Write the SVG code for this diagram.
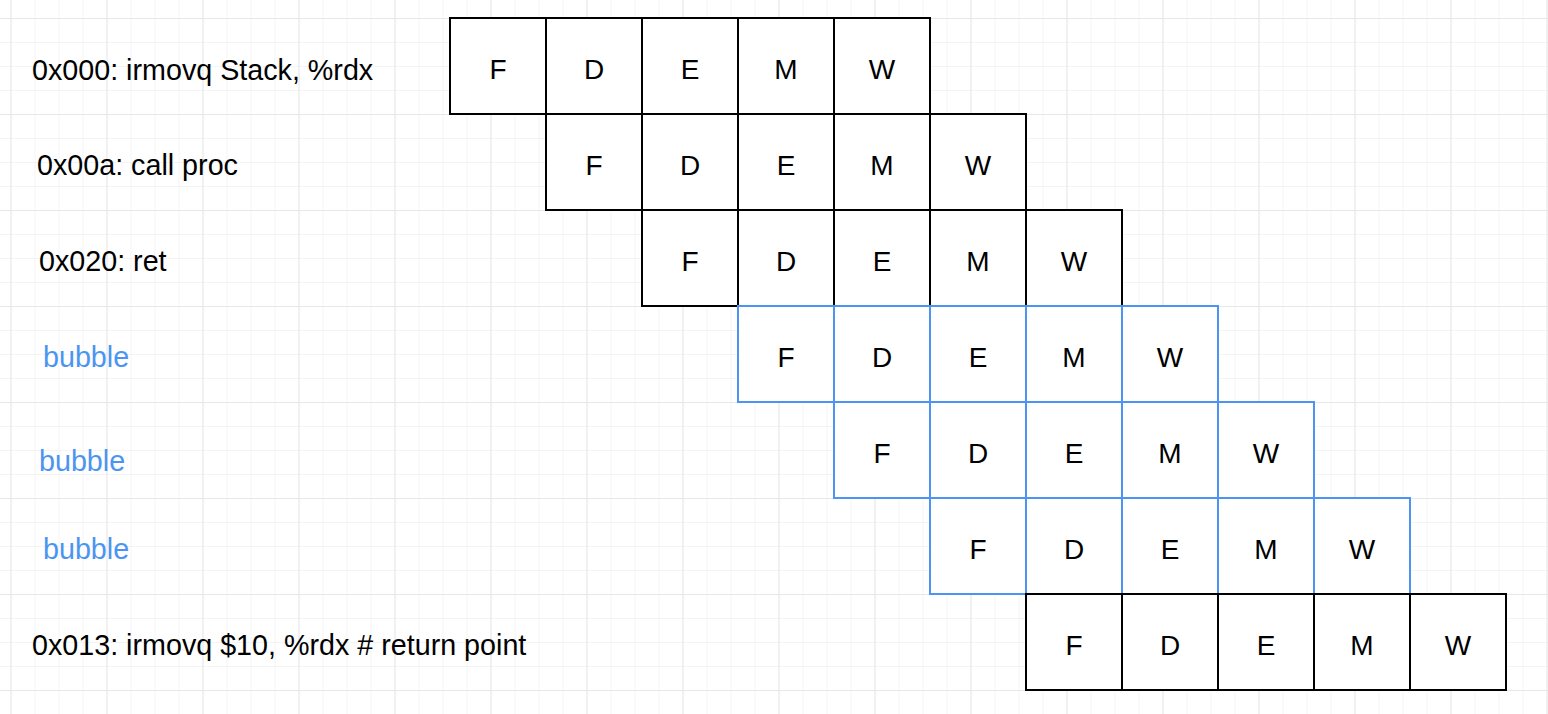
<svg xmlns="http://www.w3.org/2000/svg" width="1548" height="714" viewBox="0 0 1548 714">
<defs>
<pattern id="minor" x="10.5" y="18" width="24" height="24" patternUnits="userSpaceOnUse">
<path d="M0 0H24M0 0V24" fill="none" stroke="#f1f1f1" stroke-width="1.5"/>
</pattern>
<pattern id="major" x="10.5" y="18" width="96" height="96" patternUnits="userSpaceOnUse">
<path d="M0 0H96M0 0V96" fill="none" stroke="#e4e4e4" stroke-width="1.5"/>
</pattern>
</defs>
<style>
.cell{fill:#ffffff;stroke:#000000;stroke-width:2}
.bcell{fill:#ffffff;stroke:#4c94f2;stroke-width:2}
.st{font-family:"Liberation Sans",Arial,sans-serif;font-size:28px;fill:#000000;text-anchor:middle}
.lbl{font-family:"Liberation Sans",Arial,sans-serif;font-size:28.7px;fill:#000000}
.blbl{font-family:"Liberation Sans",Arial,sans-serif;font-size:28.7px;fill:#4c94f2}
</style>
<rect width="1548" height="714" fill="#ffffff"/>
<rect width="1548" height="714" fill="url(#minor)"/>
<rect width="1548" height="714" fill="url(#major)"/>
<g id="connectors"></g>
<g id="labels">
<text class="lbl" x="32" y="80">0x000: irmovq Stack, %rdx</text>
<text class="lbl" x="37" y="175">0x00a: call proc</text>
<text class="lbl" x="39" y="271">0x020: ret</text>
<text class="blbl" x="43" y="367">bubble</text>
<text class="blbl" x="39" y="471">bubble</text>
<text class="blbl" x="43" y="559">bubble</text>
<text class="lbl" x="32" y="655">0x013: irmovq $10, %rdx # return point</text>
</g>
<g id="row1">
<rect class="cell" x="450" y="18" width="96" height="96"/><rect class="cell" x="546" y="18" width="96" height="96"/><rect class="cell" x="642" y="18" width="96" height="96"/><rect class="cell" x="738" y="18" width="96" height="96"/><rect class="cell" x="834" y="18" width="96" height="96"/>
<text class="st" x="498" y="79">F</text><text class="st" x="594" y="79">D</text><text class="st" x="690" y="79">E</text><text class="st" x="786" y="79">M</text><text class="st" x="882" y="79">W</text>
</g>
<g id="row2">
<rect class="cell" x="546" y="114" width="96" height="96"/><rect class="cell" x="642" y="114" width="96" height="96"/><rect class="cell" x="738" y="114" width="96" height="96"/><rect class="cell" x="834" y="114" width="96" height="96"/><rect class="cell" x="930" y="114" width="96" height="96"/>
<text class="st" x="594" y="175">F</text><text class="st" x="690" y="175">D</text><text class="st" x="786" y="175">E</text><text class="st" x="882" y="175">M</text><text class="st" x="978" y="175">W</text>
</g>
<g id="row3">
<rect class="cell" x="642" y="210" width="96" height="96"/><rect class="cell" x="738" y="210" width="96" height="96"/><rect class="cell" x="834" y="210" width="96" height="96"/><rect class="cell" x="930" y="210" width="96" height="96"/><rect class="cell" x="1026" y="210" width="96" height="96"/>
<text class="st" x="690" y="271">F</text><text class="st" x="786" y="271">D</text><text class="st" x="882" y="271">E</text><text class="st" x="978" y="271">M</text><text class="st" x="1074" y="271">W</text>
</g>
<g id="row4">
<rect class="bcell" x="738" y="306" width="96" height="96"/><rect class="bcell" x="834" y="306" width="96" height="96"/><rect class="bcell" x="930" y="306" width="96" height="96"/><rect class="bcell" x="1026" y="306" width="96" height="96"/><rect class="bcell" x="1122" y="306" width="96" height="96"/>
<text class="st" x="786" y="367">F</text><text class="st" x="882" y="367">D</text><text class="st" x="978" y="367">E</text><text class="st" x="1074" y="367">M</text><text class="st" x="1170" y="367">W</text>
</g>
<g id="row5">
<rect class="bcell" x="834" y="402" width="96" height="96"/><rect class="bcell" x="930" y="402" width="96" height="96"/><rect class="bcell" x="1026" y="402" width="96" height="96"/><rect class="bcell" x="1122" y="402" width="96" height="96"/><rect class="bcell" x="1218" y="402" width="96" height="96"/>
<text class="st" x="882" y="463">F</text><text class="st" x="978" y="463">D</text><text class="st" x="1074" y="463">E</text><text class="st" x="1170" y="463">M</text><text class="st" x="1266" y="463">W</text>
</g>
<g id="row6">
<rect class="bcell" x="930" y="498" width="96" height="96"/><rect class="bcell" x="1026" y="498" width="96" height="96"/><rect class="bcell" x="1122" y="498" width="96" height="96"/><rect class="bcell" x="1218" y="498" width="96" height="96"/><rect class="bcell" x="1314" y="498" width="96" height="96"/>
<text class="st" x="978" y="559">F</text><text class="st" x="1074" y="559">D</text><text class="st" x="1170" y="559">E</text><text class="st" x="1266" y="559">M</text><text class="st" x="1362" y="559">W</text>
</g>
<g id="row7">
<rect class="cell" x="1026" y="594" width="96" height="96"/><rect class="cell" x="1122" y="594" width="96" height="96"/><rect class="cell" x="1218" y="594" width="96" height="96"/><rect class="cell" x="1314" y="594" width="96" height="96"/><rect class="cell" x="1410" y="594" width="96" height="96"/>
<text class="st" x="1074" y="655">F</text><text class="st" x="1170" y="655">D</text><text class="st" x="1266" y="655">E</text><text class="st" x="1362" y="655">M</text><text class="st" x="1458" y="655">W</text>
</g>
</svg>
